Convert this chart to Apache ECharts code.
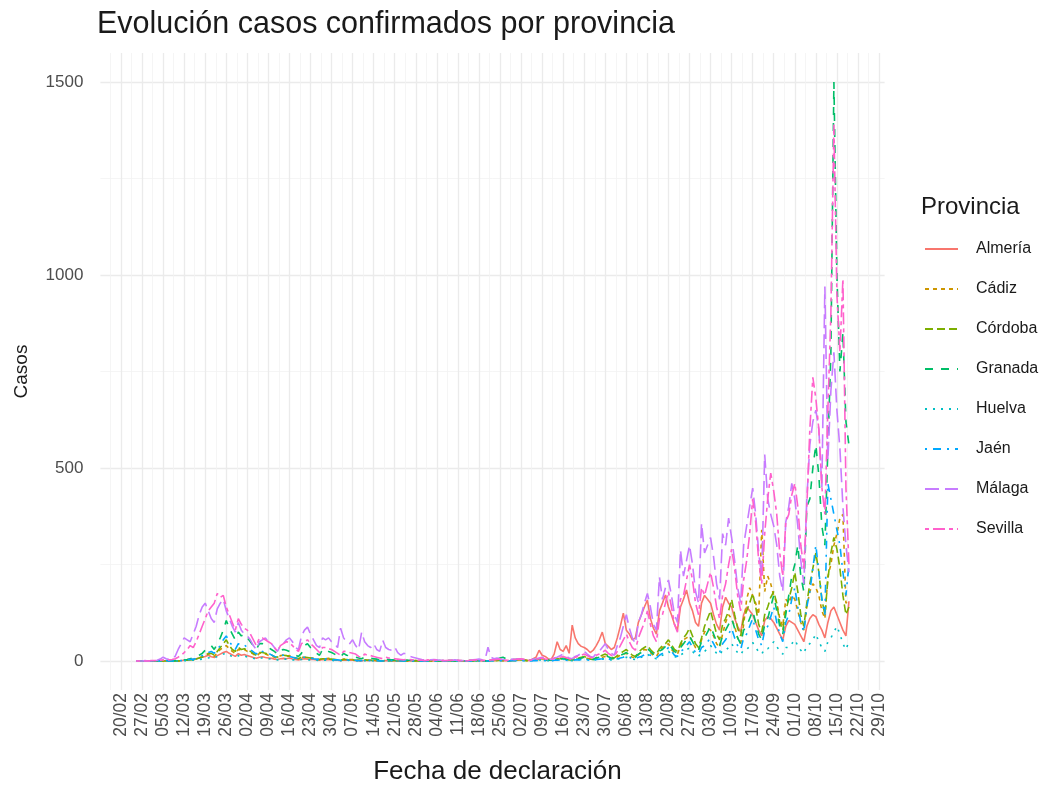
<!DOCTYPE html>
<html>
<head>
<meta charset="utf-8">
<script src="https://cdn.jsdelivr.net/npm/echarts@6/dist/echarts.min.js"></script>
<style>
html,body{margin:0;padding:0;background:#ffffff;}
#chart{width:1058px;height:785px;}
</style>
</head>
<body>
<div id="chart"></div>
<script>
// ---------- DATA ----------
const axisStartDate = '2020-02-20';   // first weekly tick
const firstDataDate = '2020-02-25';   // first day of the series (one value per day)
const tickLabels = ['20/02','27/02','05/03','12/03','19/03','26/03','02/04','09/04','16/04','23/04','30/04',
  '07/05','14/05','21/05','28/05','04/06','11/06','18/06','25/06','02/07','09/07','16/07','23/07','30/07',
  '06/08','13/08','20/08','27/08','03/09','10/09','17/09','24/09','01/10','08/10','15/10','22/10','29/10'];
const yTicks = [0, 500, 1000, 1500];
const provinces = ['Almería','Cádiz','Córdoba','Granada','Huelva','Jaén','Málaga','Sevilla'];

const almeria = [
0,0,0,0,0,0,0, 0,0,0,0,1,0,1, 0,1,2,3,5,4,6, 8,10,12,15,11,9,14, 18,22,25,20,16,12,19,
15,17,14,12,9,7,10, 11,9,8,7,5,4,6, 7,6,8,5,4,3,5, 6,5,4,4,3,2,4, 3,4,3,2,2,1,3,
2,3,2,1,1,0,2, 1,2,1,1,0,0,1, 1,0,1,0,0,0,1, 0,1,0,0,1,0,0, 1,0,0,1,0,0,1,
0,1,1,0,0,0,1, 1,2,1,0,1,0,2, 2,3,2,1,1,0,3, 2,3,5,4,2,1,6, 10,28,15,12,6,4,18,
50,30,25,40,20,93,60, 45,38,35,30,22,28,40, 55,75,45,38,30,35,60, 90,124,80,70,55,60,100,
120,140,158,110,85,70,130, 150,171,140,120,95,80,140, 160,184,150,130,100,90,150,
170,160,150,120,95,80,140, 165,150,140,110,90,75,120, 140,130,120,100,80,65,105,
115,110,100,85,70,55,90, 105,100,95,80,65,50,90, 110,120,115,95,80,60,100,
130,140,120,100,80,65,155];

const cadiz = [
0,0,0,0,0,0,0, 0,0,0,1,0,0,1, 0,1,2,3,4,3,6, 8,12,15,20,18,12,22, 30,35,40,32,25,20,30,
28,30,25,22,18,12,20, 20,18,15,14,10,8,14, 15,12,14,10,8,6,10, 10,9,8,7,5,4,7, 6,7,5,4,3,2,5,
5,4,4,3,2,1,3, 2,3,2,1,1,0,2, 1,2,1,0,1,0,1, 0,1,1,0,0,0,1, 1,0,1,0,0,0,0,
0,1,0,1,0,0,1, 1,1,2,1,0,0,1, 1,2,1,2,1,0,2, 2,3,4,2,1,1,3, 4,5,6,4,3,2,5,
5,7,8,6,4,3,6, 6,8,10,7,5,4,8, 8,10,12,9,6,5,10, 15,18,20,14,10,8,16,
25,30,28,22,15,12,25, 35,40,45,30,22,18,38, 55,60,65,50,35,28,55,
75,85,80,65,45,35,70, 100,120,110,90,60,45,95, 160,190,170,150,120,340,180,
220,200,170,150,110,90,160, 150,170,160,130,100,80,140, 180,200,190,170,130,110,220,
250,300,330,370,380,150,160];

const cordoba = [
0,0,0,0,0,0,0, 0,0,0,0,0,1,0, 0,1,2,2,3,4,5, 8,10,14,18,20,15,25, 35,45,55,40,30,25,35,
30,32,28,25,20,15,22, 22,20,18,16,12,10,15, 15,14,12,10,8,6,10, 10,9,8,7,5,4,6, 6,5,5,4,3,2,4,
4,3,3,2,2,1,3, 2,2,1,1,1,0,2, 1,1,2,0,0,0,1, 1,0,1,0,0,0,0, 0,1,0,0,1,0,1,
1,0,1,0,0,0,1, 0,1,1,0,0,0,1, 1,1,2,1,0,0,1, 1,2,3,2,1,1,2, 3,4,5,3,2,2,4,
5,6,8,5,3,2,6, 8,10,12,8,5,4,9, 12,15,18,14,10,8,14, 20,25,30,22,15,12,22,
30,35,40,30,22,18,32, 40,45,55,42,30,25,45, 60,70,85,65,45,35,60,
90,110,130,100,70,55,95, 110,130,160,120,85,65,110, 130,150,175,140,95,75,120,
140,165,180,150,100,80,130, 160,190,230,180,120,90,150, 200,240,280,230,160,120,210,
280,320,290,240,170,120,140];

const granada = [
0,0,0,0,0,0,0, 0,0,1,0,0,0,1, 0,1,3,4,6,8,10, 15,20,28,35,40,30,45, 60,80,105,85,70,55,75,
65,70,60,50,40,30,45, 45,40,35,30,25,18,28, 30,28,25,20,15,12,20, 40,45,35,28,20,15,30, 30,25,22,18,12,10,20,
15,14,12,10,8,6,10, 8,7,6,5,3,2,5, 4,3,3,2,1,1,2, 2,1,2,1,0,0,1, 1,1,0,1,0,0,1,
1,0,1,1,0,0,1, 1,2,1,1,0,0,2, 3,5,8,10,6,4,5, 4,5,6,4,3,2,4, 3,4,5,3,2,2,4,
4,5,6,4,3,2,5, 6,8,10,7,5,4,8, 10,12,15,11,8,6,12, 15,18,22,16,12,9,18,
22,28,32,25,18,14,26, 30,38,45,35,25,20,35, 45,55,65,50,35,28,50,
60,75,90,70,50,40,65, 80,95,110,85,60,45,80, 90,110,130,100,70,55,95,
110,140,170,130,90,70,120, 170,220,250,300,220,180,400, 420,500,560,480,350,300,550,
800,1500,1000,750,850,620,560];

const huelva = [
0,0,0,0,0,0,0, 0,0,0,0,0,0,0, 0,0,1,1,2,2,3, 4,5,7,8,10,8,12, 14,18,20,15,12,10,14,
12,13,10,9,7,5,8, 8,7,6,5,4,3,5, 5,5,4,3,3,2,4, 4,3,3,2,2,1,3, 2,3,2,1,1,1,2,
1,2,1,1,0,0,1, 1,1,0,1,0,0,1, 0,1,0,0,0,0,1, 0,0,1,0,0,0,0, 1,0,0,0,0,0,1,
0,1,0,0,0,0,0, 1,0,1,0,0,0,1, 1,1,2,1,0,0,1, 1,2,2,1,1,0,2, 2,3,3,2,1,1,3,
3,4,5,3,2,1,4, 3,4,5,4,2,2,4, 3,5,6,4,3,2,5, 6,8,10,7,5,4,8,
10,14,18,12,8,6,12, 15,20,25,18,12,9,16, 20,28,35,25,16,12,22,
25,32,40,30,20,15,28, 28,35,45,32,22,16,30, 30,38,48,35,24,18,32,
32,40,50,38,25,18,35, 35,45,55,40,28,20,40, 45,55,70,50,35,25,50,
60,75,90,70,45,30,50];

const jaen = [
0,0,0,0,0,0,0, 0,0,0,1,0,0,0, 0,1,2,3,4,5,6, 10,14,18,22,25,20,30, 40,55,65,50,40,30,45,
40,42,35,30,24,18,28, 25,22,20,16,12,10,15, 15,14,12,10,8,6,10, 10,9,8,6,5,4,6, 6,5,4,3,3,2,4,
3,3,2,2,1,1,2, 2,1,1,1,0,0,1, 1,1,0,0,0,0,1, 0,1,0,0,0,0,0, 0,0,1,0,0,0,1,
1,0,0,0,0,0,0, 0,1,0,1,0,0,1, 1,0,1,1,0,0,1, 1,1,2,1,0,0,1, 1,2,2,1,1,0,2,
2,3,4,2,1,1,3, 3,4,5,3,2,1,4, 5,6,8,6,4,3,6, 8,10,14,10,6,5,10,
12,16,20,15,10,8,15, 20,28,35,25,15,12,25, 30,40,50,35,22,18,35,
40,50,60,45,30,22,45, 55,70,85,60,40,30,60, 70,90,110,80,55,40,80,
90,115,140,100,70,50,100, 120,160,190,140,100,75,140, 180,240,300,230,160,120,460,
420,380,340,300,230,170,250];

const malaga = [
0,0,0,1,0,0,1, 2,5,10,6,4,8,12, 30,45,60,55,50,70,90, 120,140,150,130,110,100,135, 150,160,130,110,90,75,100,
80,70,65,55,40,30,50, 55,60,50,45,35,25,40, 45,55,60,50,35,30,65, 80,88,70,55,40,35,60, 55,60,50,45,35,85,60,
50,45,55,40,30,75,50, 40,35,45,30,25,54,35, 30,28,36,22,15,20,18, 12,10,8,6,4,3,5, 3,4,3,2,2,1,2,
2,3,2,1,1,1,2, 3,4,5,3,2,36,10, 6,8,5,4,3,2,5, 4,6,5,4,3,2,5, 6,8,10,7,5,4,8,
10,14,18,12,8,6,12, 15,20,25,18,12,10,20, 25,35,45,30,20,15,40, 60,90,120,85,60,45,100,
120,150,175,140,95,80,218, 160,190,210,170,120,100,288, 220,260,300,250,180,150,357,
280,300,320,270,200,160,330, 300,370,320,260,190,150,300, 350,400,448,380,280,220,535,
420,380,350,300,220,180,360, 400,460,420,350,260,200,420, 560,620,650,600,450,970,520,
700,800,650,550,400,300,230];

const sevilla = [
0,0,0,0,0,1,1, 1,2,3,2,3,4,6, 10,15,22,30,40,35,50, 70,90,110,130,140,150,175, 165,170,140,120,100,80,110,
95,85,80,70,55,40,60, 60,55,50,45,35,25,40, 45,50,48,40,30,25,45, 50,55,45,38,30,22,35, 35,32,30,25,20,15,25,
25,22,20,18,12,10,18, 15,14,12,10,8,6,10, 8,7,6,5,4,3,5, 4,3,3,2,2,1,3, 2,3,2,1,1,1,2,
2,1,2,1,1,0,2, 2,3,2,2,1,1,3, 3,4,5,3,2,2,4, 4,5,6,4,3,2,5, 5,6,8,5,4,3,7,
8,10,12,9,6,5,10, 12,15,18,14,10,8,15, 18,22,28,20,15,12,25, 40,55,70,50,35,28,60,
80,100,130,95,65,50,110, 120,150,180,140,95,75,160, 170,210,250,210,150,120,190,
170,200,230,190,140,110,170, 200,250,290,240,170,130,210, 260,330,420,360,260,200,330,
420,487,440,380,280,220,360, 380,430,460,400,300,240,400, 600,735,680,600,450,380,650,
900,1390,950,800,990,450,250];

const seriesValues = [almeria, cadiz, cordoba, granada, huelva, jaen, malaga, sevilla];

// ---------- STYLE ----------
const colors = ['#F8766D','#CD9600','#7CAE00','#00BE67','#00BFC4','#00A9FF','#C77CFF','#FF61CC'];
const dashes = ['solid',[4,4],[8,4],[8,8],[2,6],[2,6,8,6],[14,6],[4,4,12,4]];
const FONT = 'Liberation Sans, Arial, sans-serif';

const dayMs = 86400000;
const dataOffset = Math.round((Date.parse(firstDataDate) - Date.parse(axisStartDate)) / dayMs);
const lastDay = (tickLabels.length - 1) * 7;

// panel geometry (ggplot-like expansion of data range)
const firstX = dataOffset, lastX = dataOffset + almeria.length - 1;
const xPad = (lastX - firstX) * 0.05;
const xMin = firstX - xPad, xMax = lastX + xPad;
const yPad = 1500 * 0.05;
const pxPerDay = 3.008;
const tick0px = 121;
const panelLeft = tick0px + xMin * pxPerDay;
const panelRight = tick0px + xMax * pxPerDay;
const panelTop = 53, panelBottom = 690;
const yScale = (panelBottom - panelTop) / (1500 + 2 * yPad);
const y0px = panelTop + (1500 + yPad) * yScale;
const y1500px = panelTop + yPad * yScale;

const majorLine = {color: '#EBEBEB', width: 1.3};
const minorLine = {color: '#F3F3F3', width: 0.8};

const chart = echarts.init(document.getElementById('chart'), null, {renderer: 'canvas'});

const series = provinces.map((p, k) => ({
  name: p,
  type: 'line',
  xAxisIndex: 0, yAxisIndex: 0,
  data: seriesValues[k].map((v, i) => [dataOffset + i, v]),
  symbol: 'none',
  showSymbol: false,
  clip: false,
  animation: false,
  lineStyle: {color: colors[k], width: 1.6, type: dashes[k]},
  itemStyle: {color: colors[k]},
  z: 3
}));
// extra minor grid line before the first weekly tick
series[0].markLine = {
  silent: true, symbol: 'none', animation: false, label: {show: false},
  lineStyle: {color: minorLine.color, width: minorLine.width, type: 'solid'},
  data: [{xAxis: -3.5}]
};

const option = {
  backgroundColor: '#ffffff',
  animation: false,
  textStyle: {fontFamily: FONT},
  title: {
    text: 'Evolución casos confirmados por provincia',
    left: 92, top: 4,
    textStyle: {fontFamily: FONT, fontSize: 30.5, fontWeight: 'normal', color: '#1A1A1A'}
  },
  legend: {
    data: provinces,
    orient: 'vertical',
    left: 919, top: 236,
    itemWidth: 33, itemHeight: 14, itemGap: 24,
    selectedMode: false,
    itemStyle: {opacity: 0, borderWidth: 0},
    textStyle: {fontFamily: FONT, fontSize: 16, color: '#1A1A1A', padding: [0, 0, 0, 13]}
  },
  graphic: [
    {type: 'text', x: 22, y: (panelTop + panelBottom) / 2, rotation: Math.PI / 2,
     style: {text: 'Casos', font: '19px ' + FONT, fill: '#1A1A1A', textAlign: 'center', textVerticalAlign: 'middle'}},
    {type: 'text', x: (panelLeft + panelRight) / 2 + 5, y: 772,
     style: {text: 'Fecha de declaración', font: '26px ' + FONT, fill: '#1A1A1A', textAlign: 'center', textVerticalAlign: 'middle'}},
    {type: 'text', x: 921, y: 207,
     style: {text: 'Provincia', font: '24px ' + FONT, fill: '#1A1A1A', textAlign: 'left', textVerticalAlign: 'middle'}}
  ],
  grid: [
    // 0: data panel
    {left: panelLeft, width: panelRight - panelLeft, top: panelTop, height: panelBottom - panelTop},
    // 1: weekly date axis (labels + vertical grid)
    {left: tick0px, width: lastDay * pxPerDay, top: panelTop, height: panelBottom - panelTop},
    // 2: value axis (labels + horizontal grid)
    {left: panelLeft, width: panelRight - panelLeft, top: y1500px, height: y0px - y1500px}
  ],
  xAxis: [
    {gridIndex: 0, type: 'value', min: xMin, max: xMax, show: false},
    {gridIndex: 1, type: 'value', min: 0, max: lastDay, interval: 7,
     axisLine: {show: false}, axisTick: {show: false},
     minorTick: {show: false, splitNumber: 2},
     splitLine: {show: true, lineStyle: majorLine},
     minorSplitLine: {show: true, lineStyle: minorLine},
     axisLabel: {
       rotate: 90, margin: 3, fontFamily: FONT, fontSize: 17.5, color: '#4D4D4D',
       showMinLabel: true, showMaxLabel: true, hideOverlap: false,
       formatter: v => { const k = Math.round(v / 7); return (k >= 0 && k < tickLabels.length) ? tickLabels[k] : ''; }
     }},
    {gridIndex: 2, type: 'value', min: 0, max: 1, show: false}
  ],
  yAxis: [
    {gridIndex: 0, type: 'value', min: -yPad, max: 1500 + yPad, show: false},
    {gridIndex: 1, type: 'value', min: 0, max: 1, show: false},
    {gridIndex: 2, type: 'value', min: yTicks[0], max: yTicks[yTicks.length - 1], interval: 500,
     axisLine: {show: false}, axisTick: {show: false},
     minorTick: {show: false, splitNumber: 2},
     splitLine: {show: true, lineStyle: majorLine},
     minorSplitLine: {show: true, lineStyle: minorLine},
     axisLabel: {margin: 17, fontFamily: FONT, fontSize: 17, color: '#4D4D4D', formatter: v => String(v)}}
  ],
  series: series
};
chart.setOption(option);
</script>
</body>
</html>
